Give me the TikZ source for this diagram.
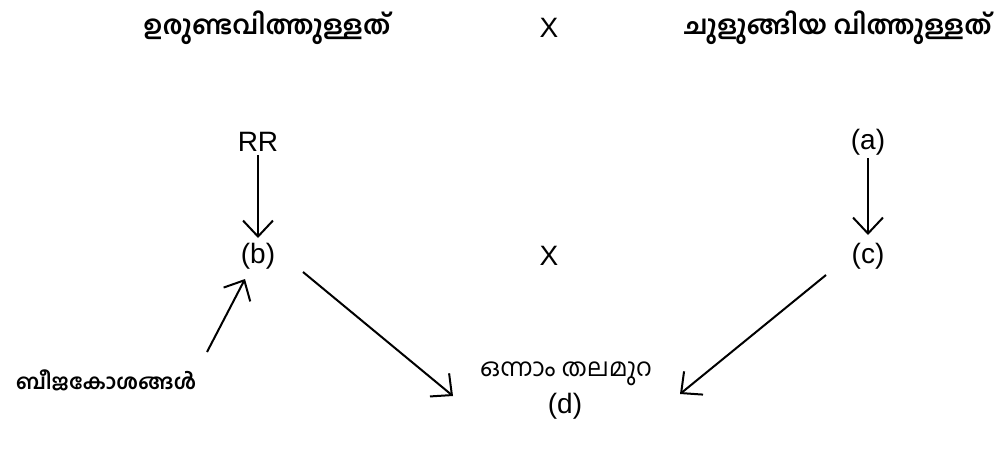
\documentclass[tikz,border=0pt]{standalone}
\usepackage{fontspec}
\setmainfont{Liberation Sans}
\newfontfamily\mal[Script=Malayalam]{Hind Kochi}
\usetikzlibrary{arrows.meta}
\tikzset{
  lat/.style={font=\fontsize{28}{30}\selectfont, inner sep=0pt},
  malb/.style={font=\mal\bfseries\fontsize{26}{30}\selectfont, inner sep=0pt},
  malr/.style={font=\mal\fontsize{25}{30}\selectfont, inner sep=0pt},
  arr/.style={line width=2pt, -{Straight Barb[length=16pt,width=30pt,line width=2pt]}}
}
\begin{document}
\begin{tikzpicture}[x=1pt,y=-1pt]
\useasboundingbox (0,0) rectangle (1001,450);
\node[malb] (round) at (267,28) {ഉരുണ്ടവിത്തുള്ളത്};
\node[lat] (x1) at (549,28) {X};
\node[malb] (wrinkled) at (838,28) {ചുളുങ്ങിയ വിത്തുള്ളത്};
\node[lat] (rr) at (258,142) {RR};
\node[lat] (a) at (868,142) {(a)};
\node[lat] (b) at (258,256) {(b)};
\node[lat] (x2) at (549,256) {X};
\node[lat] (c) at (868,256) {(c)};
\node[malb, font=\mal\bfseries\fontsize{21}{26}\selectfont] (bija) at (106,380) {ബീജകോശങ്ങൾ};
\node[malr] (onnam) at (566,374) {ഒന്നാം തലമുറ};
\node[lat] (d) at (565,406) {(d)};
\coordinate (bout) at (303,272);
\coordinate (dinl) at (453,396);
\coordinate (cout) at (826,275);
\coordinate (dinr) at (680,394);
\coordinate (bijaout) at (207,352);
\coordinate (bin) at (245,279);
\draw[arr] (rr.south) ++(0,3) coordinate (rrs) -- (b.north |- 0,238);
\draw[arr] (a.south) ++(0,3) coordinate (as) -- (c.north |- 0,235);
\draw[arr] (bijaout) -- (bin);
\draw[arr] (bout) -- (dinl);
\draw[arr] (cout) -- (dinr);
\end{tikzpicture}
\end{document}
